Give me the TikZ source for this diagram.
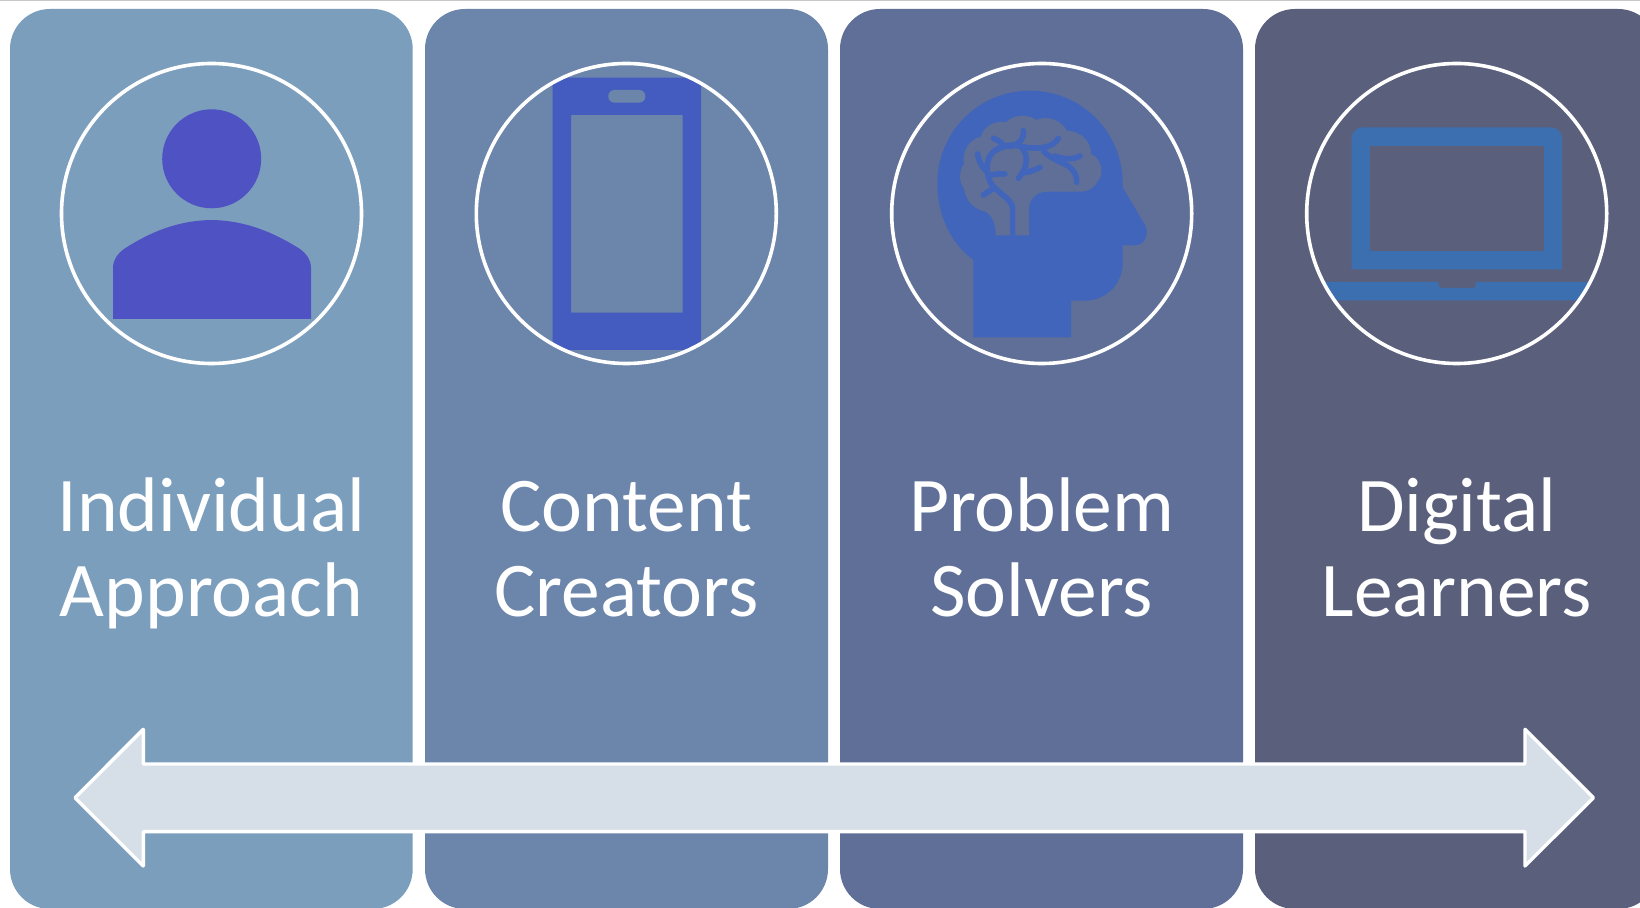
\documentclass[tikz,border=0pt]{standalone}
\usepackage{fontspec}
\setmainfont{Carlito}
\definecolor{panelA}{HTML}{7C9EBD}
\definecolor{panelB}{HTML}{6C85AB}
\definecolor{panelC}{HTML}{606F97}
\definecolor{panelD}{HTML}{5A5F7C}
\definecolor{iconA}{HTML}{4F52C3}
\definecolor{iconB}{HTML}{445BC0}
\definecolor{iconC}{HTML}{4065BA}
\definecolor{iconD}{HTML}{3B6FB0}
\definecolor{arrowfill}{HTML}{D6DEE8}
\tikzset{
  panel/.style={rounded corners=20pt},
  ring/.style={draw=white,line width=1.8pt},
  label/.style={text=white,align=center,font=\fontsize{38.7}{42.5}\selectfont,inner sep=0pt,anchor=base},
  vein/.style={draw=iconC,line width=2.8pt,line cap=round,line join=round}
}
\begin{document}
\begin{tikzpicture}[x=0.5pt,y=-0.5pt]
\useasboundingbox (0,0) rectangle (1640,908);
\clip (0,0) rectangle (1640,908);
\fill[white] (0,0) rectangle (1640,908);
\fill[black!22] (0,0) rectangle (1640,1);
% panels
\fill[panel,panelA] (10,9) rectangle (412.7,909);
\fill[panel,panelB] (425,9) rectangle (828,909);
\fill[panel,panelC] (840,9) rectangle (1243,909);
\fill[panel,panelD] (1255,9) rectangle (1658,909);
% person
\fill[iconA] (211.7,158.8) circle[radius=49.5];
\fill[iconA] (113,319) -- (113,268) .. controls (113,260) and (118,253) .. (124,249)
  .. controls (150,232) and (178,220.5) .. (211.7,220)
  .. controls (245,220.5) and (273,232) .. (300,249)
  .. controls (306,253) and (311,260) .. (311,268) -- (311,319) -- cycle;
% phone
\begin{scope}
\clip (626.3,213.5) circle[radius=150];
\fill[iconB,even odd rule] (552.7,77.7) rectangle (701,350)
  (571,115) rectangle (682.7,312.7);
\end{scope}
\fill[panelB,rounded corners=3pt] (608.3,90) rectangle (645.3,102.7);
% head
\begin{scope}[shift={(880,60)},x=0.166667pt,y=-0.166667pt]
\fill[iconC] (280,832) -- (280,600) .. controls (212,550) and (172,465) .. (172,370)
  .. controls (172,216) and (296,92) .. (450,92)
  .. controls (604,92) and (728,216) .. (728,370) -- (728,382) -- (795,495)
  .. controls (810,522) and (793,556) .. (765,556) -- (728,556) -- (728,610)
  .. controls (728,672) and (677,722) .. (615,722) -- (573,722) -- (573,832) -- cycle;
\fill[panelC] (347,526) .. controls (347,490) and (335,462) .. (315,455)
  .. controls (280,445) and (258,425) .. (252,385)
  .. controls (238,370) and (235,335) .. (252,312)
  .. controls (245,270) and (270,238) .. (303,230)
  .. controls (310,200) and (345,180) .. (378,187)
  .. controls (395,165) and (445,160) .. (468,180)
  .. controls (500,165) and (545,180) .. (560,212)
  .. controls (600,212) and (635,245) .. (633,282)
  .. controls (660,292) and (675,335) .. (655,362)
  .. controls (645,382) and (625,395) .. (600,395)
  -- (500,395) .. controls (470,395) and (447,418) .. (447,445)
  -- (447,526) -- cycle;
\draw[vein,line cap=butt] (398,527) -- (398,445) .. controls (396,415) and (345,395) .. (330,365)
  .. controls (320,340) and (318,315) .. (328,292)
  .. controls (340,265) and (375,255) .. (400,258);
\draw[vein] (293,282) .. controls (297,305) and (305,322) .. (322,335);
\draw[vein] (340,235) .. controls (355,240) and (365,248) .. (372,260);
\draw[vein] (430,212) .. controls (432,235) and (422,250) .. (395,258);
\draw[vein] (535,235) .. controls (520,262) and (480,270) .. (425,260)
  .. controls (390,252) and (370,255) .. (350,270);
\draw[vein] (425,262) .. controls (445,285) and (445,320) .. (415,355);
\draw[vein] (435,338) .. controls (450,335) and (465,330) .. (480,322);
\draw[vein] (335,345) .. controls (345,342) and (360,341) .. (375,342);
\draw[vein] (340,385) -- (310,405);
\draw[vein] (490,272) .. controls (510,295) and (540,305) .. (560,315)
  .. controls (580,328) and (592,345) .. (590,367);
\draw[vein] (525,288) .. controls (550,298) and (580,300) .. (600,288);
\end{scope}
% laptop
\begin{scope}
\clip (1456.7,213.5) circle[radius=150];
\fill[iconD,rounded corners=5.5pt] (1351.7,269.3) [sharp corners] -- (1351.7,269.3) [rounded corners=5.5pt] -- (1351.7,127.3) -- (1562,127.3) [sharp corners] -- (1562,269.3) -- cycle;
\fill[panelD] (1370.3,146) rectangle (1543.7,250.7);
\fill[iconD] (1290,282) -- (1438.7,282) -- (1438.7,286) -- (1440.5,288) -- (1474,288) -- (1475.7,286) -- (1475.7,282) -- (1620,282) -- (1620,300.3) -- (1290,300.3) -- cycle;
\end{scope}
% rings
\draw[ring] (211.5,213.5) circle[radius=150];
\draw[ring] (626.3,213.5) circle[radius=150];
\draw[ring] (1041.7,213.5) circle[radius=150];
\draw[ring] (1456.7,213.5) circle[radius=150];
% labels
\node[label] (individual) at (211.5,617) {Individual\\Approach};
\node[label] (content) at (626.3,617) {Content\\Creators};
\node[label] (problem) at (1041.7,617) {Problem\\Solvers};
\node[label] (digital) at (1456.7,617) {Digital\\Learners};
% arrow
\draw[fill=arrowfill,draw=white,line width=1.7pt,line join=round] (75,797.7) -- (143.3,729.3) -- (143.3,764) -- (1525,764) -- (1525,729.3) -- (1593.5,797.7) -- (1525,866) -- (1525,831.7) -- (143.3,831.7) -- (143.3,866) -- cycle;
\end{tikzpicture}
\end{document}
